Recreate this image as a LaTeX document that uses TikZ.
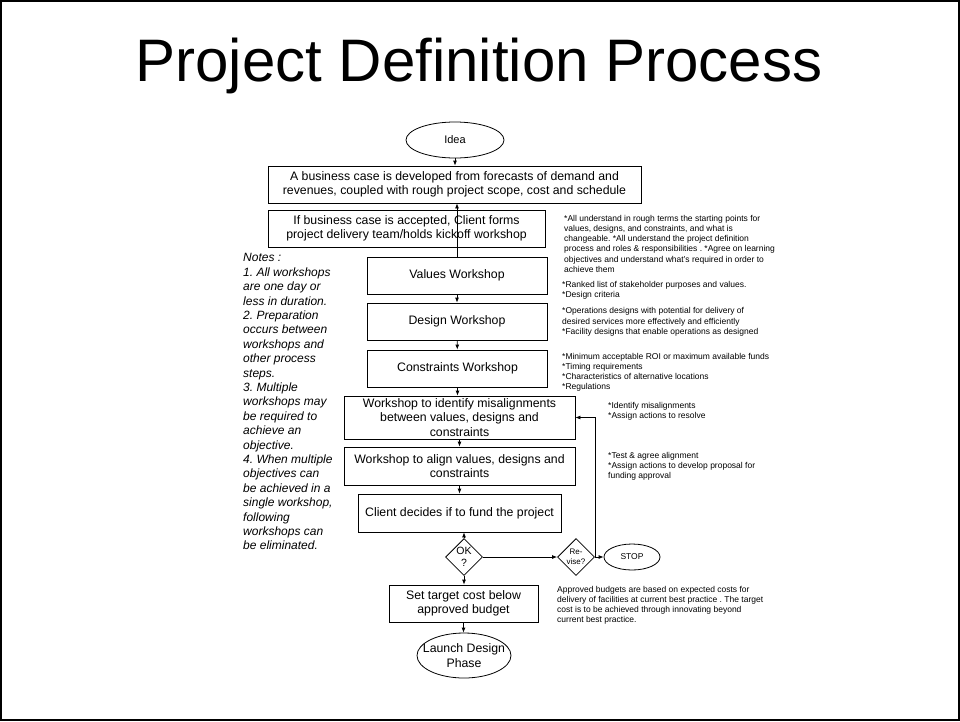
\documentclass[tikz,border=0pt]{standalone}
\usepackage{fontspec}
\setmainfont{Liberation Sans}
\frenchspacing
\usetikzlibrary{shapes.geometric,arrows.meta}

\begin{document}
\begin{tikzpicture}[x=1pt,y=-1pt,
  box/.style={shape=rectangle,draw,line width=0.8pt,align=center,inner sep=0pt,font=\fontsize{12.3}{14.6}\selectfont},
  oval/.style={shape=ellipse,draw,line width=0.8pt,align=center,inner sep=0pt},
  choice/.style={shape=diamond,draw,line width=0.8pt,align=center,inner sep=0pt,minimum width=37,minimum height=37},
  remark/.style={anchor=north west,inner sep=0pt,align=left,font=\fontsize{8.5}{10.2}\selectfont},
  flow/.style={->,line width=0.8pt,>={Latex[length=5pt,width=4pt]}}]
\useasboundingbox (0,0) rectangle (960,721);
\draw [line width=2pt] (1,1) rectangle (959,720);
\path node (title) at (479,81) [anchor=base,inner sep=0pt,font=\fontsize{60}{72}\selectfont] {Project Definition Process};

\path node (idea) at (455,140) [oval,minimum width=98,minimum height=36,font=\fontsize{11}{13}\selectfont] {Idea}
      node (biz) at (454.5,184.5) [box,minimum width=373,minimum height=37] {A business case is developed from forecasts of demand and\\revenues, coupled with rough project scope, cost and schedule}
      node (kickoff) at (406.5,228.5) [box,minimum width=277,minimum height=37] {If business case is accepted, Client forms\\project delivery team/holds kickoff workshop}
      node (values) at (457,275.5) [box,minimum width=180,minimum height=37] {Values Workshop}
      node (design) at (457,321.5) [box,minimum width=180,minimum height=37] {Design Workshop}
      node (constraints) at (457.5,368.5) [box,minimum width=180,minimum height=37] {Constraints Workshop}
      node (misalign) at (459.5,417.5) [box,minimum width=231,minimum height=43] {Workshop to identify misalignments\\between values, designs and\\constraints}
      node (align) at (459.5,466) [box,minimum width=231,minimum height=38] {Workshop to align values, designs and\\constraints}
      node (client) at (459.5,513) [box,minimum width=203,minimum height=38] {Client decides if to fund the project}
      node (ok) at (464,557) [choice,font=\fontsize{10.5}{11.5}\selectfont] {OK\\?}
      node (revise) at (576,557) [choice,font=\fontsize{8}{9.5}\selectfont] {Re-\\vise?}
      node (stop) at (632,557) [oval,minimum width=56,minimum height=26,font=\fontsize{8.5}{10}\selectfont] {STOP}
      node (target) at (463.5,603.5) [box,minimum width=149,minimum height=37] {Set target cost below\\approved budget}
      node (launch) at (464,655.5) [oval,inner xsep=-12pt,minimum width=94,minimum height=45,font=\fontsize{12.3}{14.6}\selectfont] {Launch Design\\Phase};

% notes on the left
\path node (notes) at (243,253.5) [anchor=north west,inner sep=0pt,align=left,font=\fontsize{12}{14.4}\selectfont\itshape]
  {Notes :\\1. All workshops\\are one day or\\less in duration.\\2. Preparation\\occurs between\\workshops and\\other process\\steps.\\3. Multiple\\workshops may\\be required to\\achieve an\\objective.\\4. When multiple\\objectives can\\be achieved in a\\single workshop,\\following\\workshops can\\be eliminated.};

% outcomes of each step
\path node (kickoffnote) at (564,215) [remark] {*All understand in rough terms the starting points for\\values, designs, and constraints, and what is\\changeable. *All understand the project definition\\process and roles \& responsibilities . *Agree on learning\\objectives and understand what's required in order to\\achieve them}
      node (valuesnote) at (562,281) [remark] {*Ranked list of stakeholder purposes and values.\\*Design criteria}
      node (designnote) at (562,307.5) [remark] {*Operations designs with potential for delivery of\\desired services more effectively and efficiently\\*Facility designs that enable operations as designed}
      node (constraintsnote) at (562,353) [remark] {*Minimum acceptable ROI or maximum available funds\\*Timing requirements\\*Characteristics of alternative locations\\*Regulations}
      node (misalignnote) at (608,402) [remark] {*Identify misalignments\\*Assign actions to resolve}
      node (alignnote) at (608,452) [remark] {*Test \& agree alignment\\*Assign actions to develop proposal for\\funding approval}
      node (budgetnote) at (557,586) [remark] {Approved budgets are based on expected costs for\\delivery of facilities at current best practice . The target\\cost is to be achieved through innovating beyond\\current best practice.};

\draw [flow] (idea.south) to (idea.south |- biz.north);
\draw [flow] (values.north) to (values.north |- biz.south);
\draw [flow] (values) to (design);
\draw [flow] (design) to (constraints);
\draw [flow] (constraints.south) to (constraints.south |- misalign.north);
\draw [flow] (misalign.south) to (misalign.south |- align.north);
\draw [flow] (align.south) to (align.south |- client.north);
\draw [flow] (ok.north) to (ok.north |- client.south);
\draw [flow] (ok.south) to (ok.south |- target.north);
\draw [flow] (ok) to (revise);
\draw [flow] (revise) to (stop);
\draw [flow] (revise.east) |- (misalign.east);
\draw [flow] (target.south) to (target.south |- launch.north);
\end{tikzpicture}
\end{document}
